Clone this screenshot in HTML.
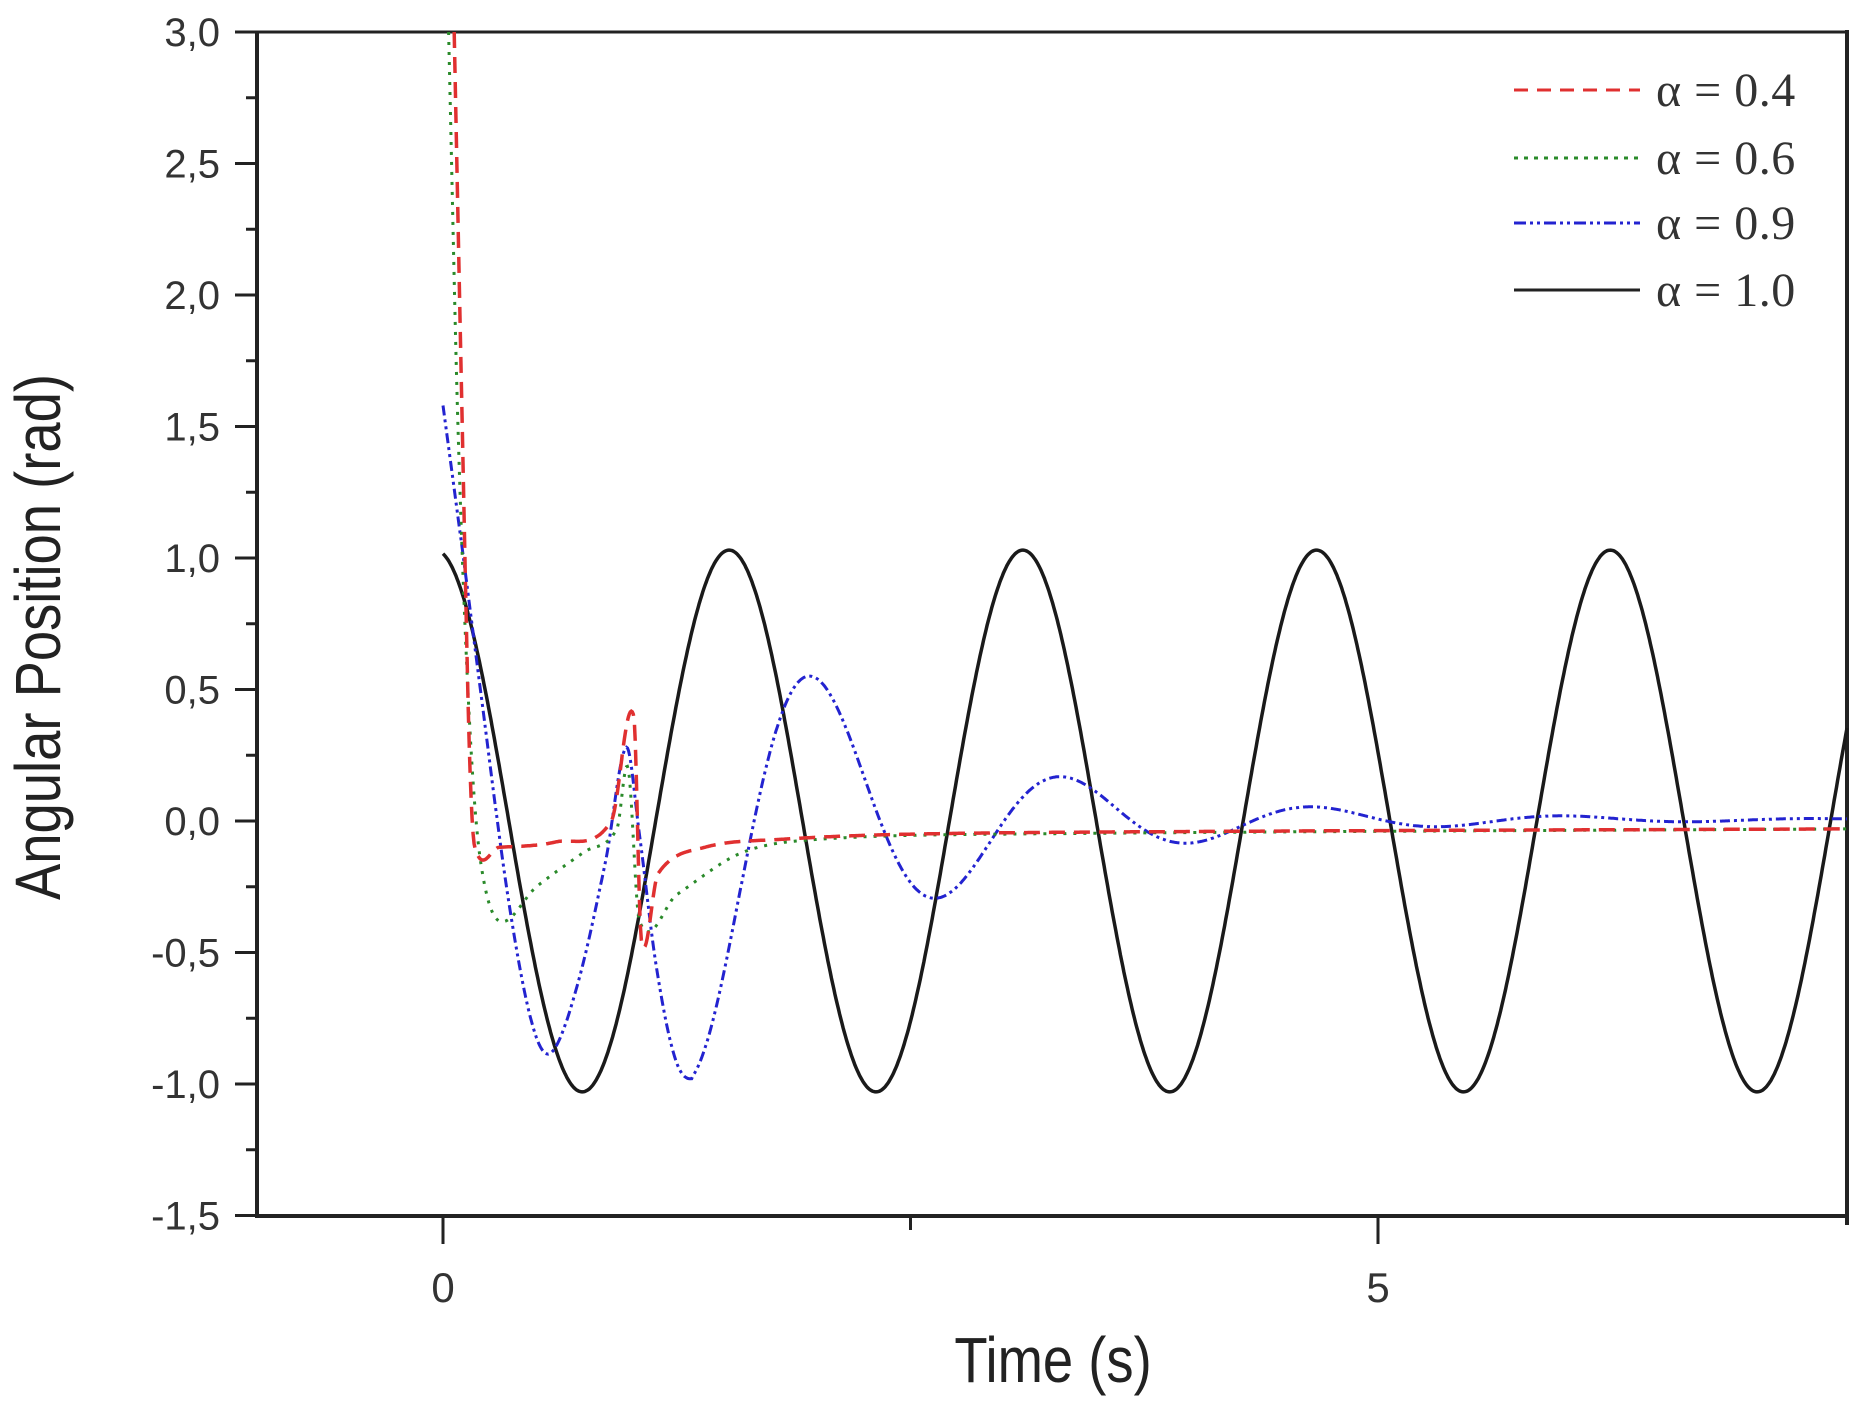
<!DOCTYPE html>
<html><head><meta charset="utf-8"><style>
html,body{margin:0;padding:0;background:#fff;}
svg{display:block;}
</style></head><body>
<svg id="s" width="1857" height="1404" viewBox="0 0 1857 1404" xmlns="http://www.w3.org/2000/svg">
<rect width="1857" height="1404" fill="#fff"/>
<g id="axes" stroke="#222" fill="none"></g>
<g id="labels" font-family="Liberation Sans, sans-serif" fill="#333"></g>
<g id="series" fill="none"></g>
<g font-family="Liberation Serif, serif" font-size="48" fill="#333">
<line x1="1514" y1="90" x2="1640" y2="90" stroke="#e03030" stroke-width="3" stroke-dasharray="14,9"/>
<text x="1656" y="106" letter-spacing="0.5">α = 0.4</text>
<line x1="1514" y1="158" x2="1640" y2="158" stroke="#2a8a2a" stroke-width="3" stroke-dasharray="4,6"/>
<text x="1656" y="174" letter-spacing="0.5">α = 0.6</text>
<line x1="1514" y1="223" x2="1640" y2="223" stroke="#2323d0" stroke-width="3" stroke-dasharray="12,4,3,4,3,4"/>
<text x="1656" y="239" letter-spacing="0.5">α = 0.9</text>
<line x1="1514" y1="290" x2="1640" y2="290" stroke="#222" stroke-width="3"/>
<text x="1656" y="306" letter-spacing="0.5">α = 1.0</text>
</g>
<text transform="translate(60,637) rotate(-90) scale(0.85,1)" text-anchor="middle" font-family="Liberation Sans, sans-serif" font-size="64" fill="#222">Angular Position (rad)</text>
<text transform="translate(1053,1382) scale(0.85,1)" text-anchor="middle" font-family="Liberation Sans, sans-serif" font-size="64" fill="#222">Time (s)</text>
</svg>
<script>
var NS="http://www.w3.org/2000/svg";
function X(t){return 443+187*t;}
function Y(v){return 32+(3-v)*263;}
function el(parent,tag,attrs,txt){var e=document.createElementNS(NS,tag);for(var k in attrs)e.setAttribute(k,attrs[k]);if(txt!==undefined)e.textContent=txt;document.getElementById(parent).appendChild(e);return e;}
el('axes','line',{x1:235,y1:32,x2:1847,y2:32,'stroke-width':3});
el('axes','line',{x1:257,y1:32,x2:257,y2:1217,'stroke-width':4});
el('axes','line',{x1:255,y1:1216,x2:1849,y2:1216,'stroke-width':4});
el('axes','line',{x1:1847,y1:30,x2:1847,y2:1225,'stroke-width':4});
var labs=['3,0','2,5','2,0','1,5','1,0','0,5','0,0','-0,5','-1,0','-1,5'];
for(var i=0;i<10;i++){var v=3-0.5*i;var y=Y(v);
 el('axes','line',{x1:235,y1:y,x2:257,y2:y,'stroke-width':3});
 if(i<9){var ym=Y(v-0.25);el('axes','line',{x1:246,y1:ym,x2:257,y2:ym,'stroke-width':3});}
 el('labels','text',{x:0,y:0,'font-size':40,'text-anchor':'end',transform:'translate(220,'+(y+14)+')'},labs[i]);
}
[[0,28],[2.5,14],[5,28]].forEach(function(a){el('axes','line',{x1:X(a[0]),y1:1216,x2:X(a[0]),y2:1216+a[1],'stroke-width':3});});
el('labels','text',{x:0,y:0,'font-size':42,'text-anchor':'middle',transform:'translate('+X(0)+',1302)'},'0');
el('labels','text',{x:0,y:0,'font-size':42,'text-anchor':'middle',transform:'translate('+X(5)+',1302)'},'5');
function cr(pts,t){
 var n=pts.length; if(t<=pts[0][0])return pts[0][1]; if(t>=pts[n-1][0])return pts[n-1][1];
 for(var i=0;i<n-1;i++){if(t<=pts[i+1][0]){
  var p0=pts[Math.max(0,i-1)],p1=pts[i],p2=pts[i+1],p3=pts[Math.min(n-1,i+2)];
  var h=p2[0]-p1[0],f=(t-p1[0])/h;
  var m1=(p2[1]-p0[1])/(p2[0]-p0[0])*h, m2=(p3[1]-p1[1])/(p3[0]-p1[0])*h;
  if(i==0)m1=(p2[1]-p1[1]); if(i==n-2)m2=(p2[1]-p1[1]);
  var f2=f*f,f3=f2*f;
  return (2*f3-3*f2+1)*p1[1]+(f3-2*f2+f)*m1+(-2*f3+3*f2)*p2[1]+(f3-f2)*m2;}}
}
function path(fn,t0,t1,n){var d='';for(var i=0;i<=n;i++){var t=t0+(t1-t0)*i/n;var v=fn(t);d+=(i?'L':'M')+X(t).toFixed(1)+','+Y(v).toFixed(1);}return d;}
var TEND=(1847-443)/187;
el('series','path',{d:path(function(t){return 1.03*Math.cos(4*(t-1.53));},0,TEND,1200),stroke:'#1a1a1a','stroke-width':3.5});
var bp=[[0,1.58],[0.1,1.05],[0.2,0.5],[0.35,-0.3],[0.48,-0.78],[0.58,-0.88],[0.72,-0.62],[0.87,-0.15],[0.98,0.28],[1.05,-0.05],[1.14,-0.55],[1.24,-0.9],[1.33,-0.98],[1.45,-0.88]];
el('series','path',{d:path(function(t){if(t<1.33)return cr(bp,t);return -0.98*Math.exp(-0.9*(t-1.33))*Math.cos(Math.PI*(t-1.33)/0.67)+0.005;},0,TEND,1400),stroke:'#2323d0','stroke-width':3,'stroke-dasharray':'10,4,3,4,3,4'});
var gp=[[0.03,3.0],[0.08,1.5],[0.14,0.4],[0.2,-0.15],[0.3,-0.38],[0.5,-0.25],[0.75,-0.12],[0.93,-0.03],[0.99,0.2],[1.05,-0.38],[1.25,-0.28],[1.6,-0.12],[2.0,-0.07],[3,-0.05],[TEND,-0.03]];
el('series','path',{d:path(function(t){return cr(gp,t);},0.03,TEND,1400),stroke:'#2a8a2a','stroke-width':3,'stroke-dasharray':'3,7'});
var rp=[[0.06,3.0],[0.1,1.6],[0.14,0.3],[0.17,-0.1],[0.3,-0.1],[0.6,-0.08],[0.9,0.0],[1.02,0.4],[1.06,-0.45],[1.15,-0.2],[1.4,-0.1],[1.8,-0.07],[2.5,-0.05],[4,-0.04],[TEND,-0.03]];
el('series','path',{d:path(function(t){return cr(rp,t);},0.06,TEND,1400),stroke:'#e03030','stroke-width':3.5,'stroke-dasharray':'16,9'});
</script>
</body></html>
